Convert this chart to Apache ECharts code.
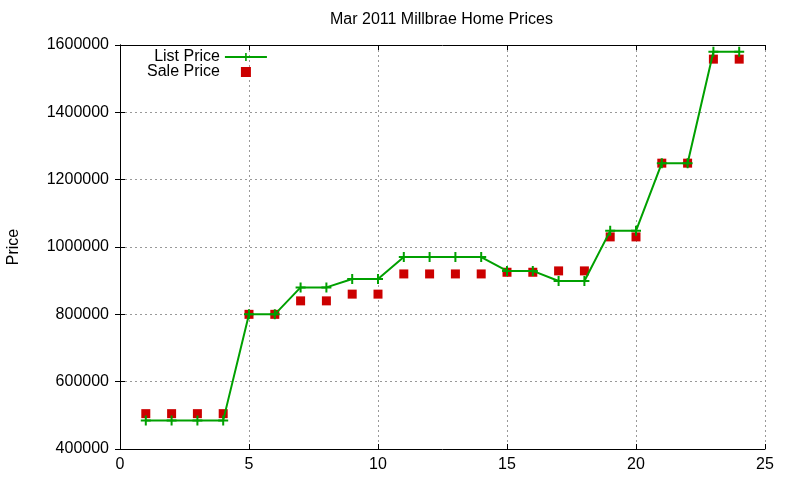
<!DOCTYPE html>
<html>
<head>
<meta charset="utf-8">
<script src="https://cdn.jsdelivr.net/npm/echarts@6/dist/echarts.min.js"></script>
<style>
  html, body { margin: 0; padding: 0; background: #fff; }
  #chart { width: 800px; height: 480px; }
</style>
</head>
<body>
<div id="chart"></div>
<script>
// house index (x) and prices
const houseNo = [1, 2, 3, 4, 5, 6, 7, 8, 9, 10, 11, 12, 13, 14, 15, 16, 17, 18, 19, 20, 21, 22, 23, 24];
const listPrice = [485000, 485000, 485000, 485000, 800000, 800000, 880000, 880000, 905000, 905000,
  970000, 970000, 970000, 970000, 929000, 929000, 899000, 899000, 1048000, 1048000,
  1249000, 1249000, 1580000, 1580000];
const salePrice = [505000, 505000, 505000, 505000, 800000, 800000, 840000, 840000, 860000, 860000,
  920000, 920000, 920000, 920000, 925000, 925000, 929000, 929000, 1030000, 1030000,
  1249000, 1249000, 1558000, 1558000];

const font = "'Liberation Sans', Arial, sans-serif";
const plus = "path://M0,4H10V6H0Z M4,0H6V10H4Z";
const squareIcon = "path://M0,0M42,10M16,0H26V10H16Z";

const pairs = ys => houseNo.map((x, i) => [x, ys[i]]);

const gridLine = { show: true, lineStyle: { color: "#999", type: [2, 3], width: 1 } };
const border = { show: true, lineStyle: { color: "#000", width: 1 } };
const tick = { show: true, inside: true, length: 5, lineStyle: { color: "#000" } };
const plain = v => String(v);

const chart = echarts.init(document.getElementById("chart"));
chart.setOption({
  animation: false,
  title: {
    text: "Mar 2011 Millbrae Home Prices",
    left: 325,
    top: 7,
    textStyle: { fontFamily: font, fontSize: 16, fontWeight: "normal", color: "#000" }
  },
  legend: {
    orient: "vertical",
    align: "right",
    left: 142,
    top: 44,
    itemWidth: 42,
    itemHeight: 10,
    itemGap: -1,
    textStyle: { fontFamily: font, fontSize: 16, lineHeight: 14, color: "#000" },
    data: [
      { name: "List Price" },
      { name: "Sale Price", icon: squareIcon }
    ]
  },
  grid: { left: 120, right: 35, top: 45, bottom: 31, outerBoundsMode: "none", containLabel: false },
  xAxis: [
    {
      type: "value", min: 0, max: 25, interval: 5,
      axisLine: border, axisTick: tick, splitLine: gridLine,
      axisLabel: { fontFamily: font, fontSize: 16, color: "#000", margin: 8, formatter: plain }
    },
    {
      type: "value", position: "top", min: 0, max: 25, interval: 5,
      axisLine: border, axisTick: tick, splitLine: { show: false }, axisLabel: { show: false }
    }
  ],
  yAxis: [
    {
      type: "value", min: 400000, max: 1600000, interval: 200000,
      name: "Price", nameLocation: "middle", nameGap: 98, nameRotate: 90,
      nameTextStyle: { fontFamily: font, fontSize: 16, color: "#000" },
      axisLine: border, axisTick: tick, splitLine: gridLine,
      axisLabel: { fontFamily: font, fontSize: 16, color: "#000", margin: 11, formatter: plain }
    },
    {
      type: "value", position: "right", min: 400000, max: 1600000, interval: 200000,
      axisLine: border, axisTick: tick, splitLine: { show: false }, axisLabel: { show: false }
    }
  ],
  series: [
    {
      name: "List Price",
      type: "line",
      data: pairs(listPrice),
      symbol: plus,
      symbolSize: 10,
      showAllSymbol: true,
      lineStyle: { color: "#00a000", width: 2 },
      itemStyle: { color: "#00a000" }
    },
    {
      name: "Sale Price",
      type: "scatter",
      data: pairs(salePrice),
      symbol: "rect",
      symbolSize: 9,
      itemStyle: { color: "#cc0000", opacity: 1 }
    }
  ]
});
</script>
</body>
</html>
